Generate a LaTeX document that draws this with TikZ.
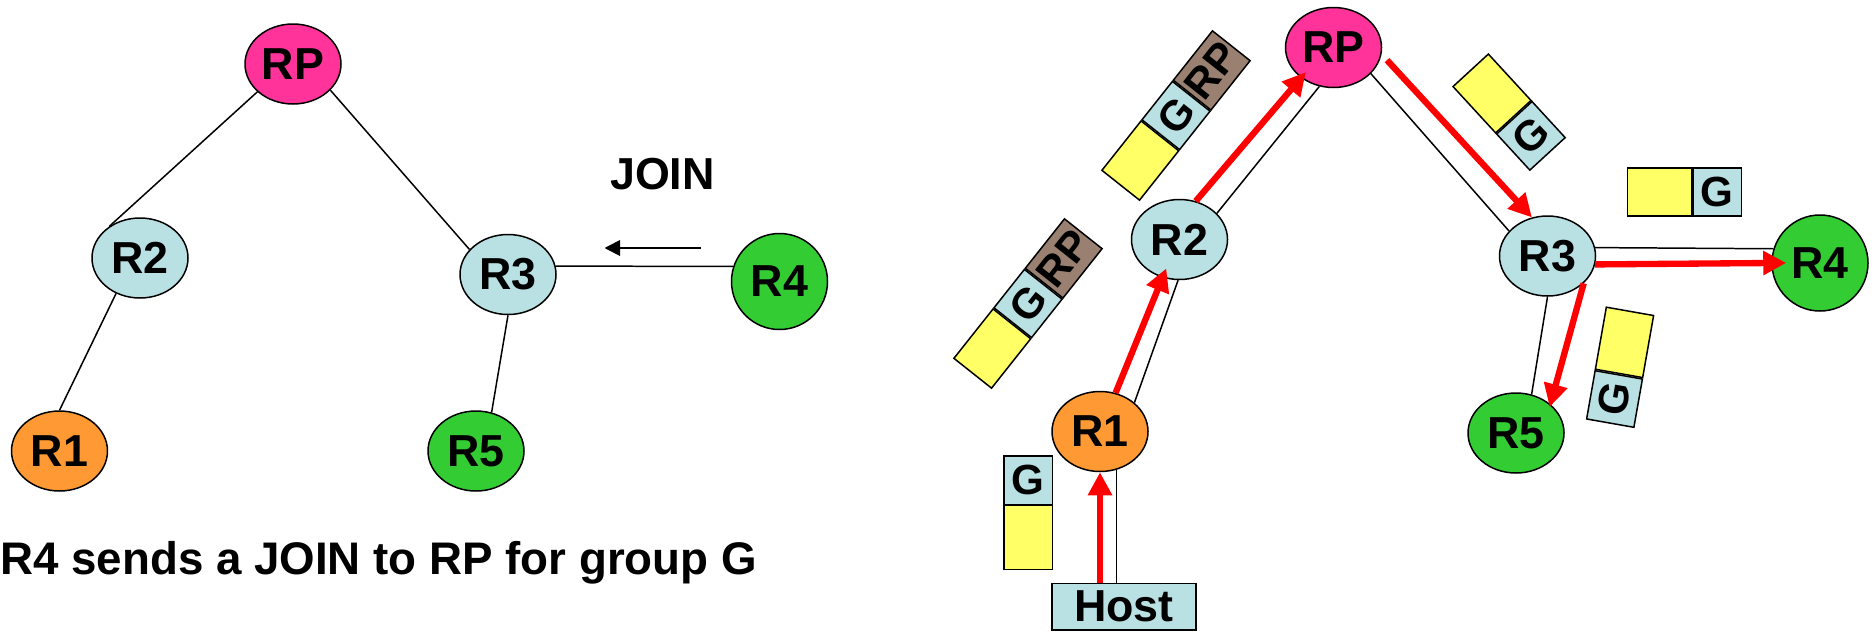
\documentclass[tikz,border=0pt]{standalone}
\usepackage{fontspec}
\setmainfont{Liberation Sans}
\usepackage{xcolor}
\usetikzlibrary{shapes, arrows.meta, positioning, calc}
\definecolor{rppink}{HTML}{FF3399}
\definecolor{rtblue}{HTML}{B9E0E3}
\definecolor{rtorange}{HTML}{FF9933}
\definecolor{rtgreen}{HTML}{33CC33}
\definecolor{pktyellow}{HTML}{FFFF66}
\definecolor{pktbrown}{HTML}{998070}
\newcommand{\bigbf}{\fontsize{25.5}{30}\selectfont\bfseries}
\newcommand{\pktbf}{\fontsize{24}{28}\selectfont\bfseries}
\newcommand{\capbf}{\fontsize{26}{31}\selectfont\bfseries}

\begin{document}
\begin{tikzpicture}[
		router/.style={ellipse, draw, line width=0.85pt, minimum width=1.92cm, minimum height=1.6cm, inner sep=0pt, font=\bigbf},
		link/.style={line width=0.85pt},
		flow/.style={draw=red, line width=3.6pt, -{Triangle[length=0.46cm, width=0.46cm]}},
		cell/.style={draw, line width=0.85pt, minimum height=0.96cm, inner sep=0pt, font=\pktbf}]
		\useasboundingbox (0,0) rectangle (37.5,-12.64);

		\node[router, fill=rppink] (RPa) at (5.86,-1.28) {RP};
		\node[router, fill=rtblue] (R2a) at (2.80,-5.16) {R2};
		\node[router, fill=rtblue] (R3a) at (10.16,-5.49) {R3};
		\node[router, fill=rtgreen, minimum height=1.92cm] (R4a) at (15.59,-5.63) {R4};
		\node[router, fill=rtorange] (R1a) at (1.19,-9.02) {R1};
		\node[router, fill=rtgreen] (R5a) at (9.52,-9.02) {R5};

		\draw[link] (RPa.218) -- (R2a.134);
		\draw[link] (RPa.-35) -- (R3a.147);
		\draw[link] (R2a.236) -- (R1a.north);
		\draw[link] (R3a.south) -- (R5a.68);
		\draw[link] (R3a.10) -- (R4a.162);

		\node[font=\bigbf] (join) at (13.25,-3.49) {JOIN};
		\coordinate (joinA) at (14.01,-4.96);
		\coordinate (joinB) at (12.09,-4.96);
		\draw[line width=1.1pt, -{Triangle[length=0.31cm, width=0.31cm]}] (joinA) -- (joinB);

		\node[anchor=west, inner sep=0pt, font=\capbf] (caption) at (0,-11.26) {R4 sends a JOIN to RP for group G};

		\node[router, fill=rppink] (RPb) at (26.67,-0.95) {RP};
		\node[router, fill=rtblue] (R2b) at (23.59,-4.79) {R2};
		\node[router, fill=rtorange] (R1b) at (22.00,-8.63) {R1};
		\node[router, fill=rtblue] (R3b) at (30.95,-5.12) {R3};
		\node[router, fill=rtgreen, minimum height=1.92cm] (R4b) at (36.40,-5.26) {R4};
		\node[router, fill=rtgreen] (R5b) at (30.32,-8.66) {R5};
		\node[draw, fill=rtblue, line width=0.85pt, minimum width=2.88cm, minimum height=0.93cm, inner sep=0pt, font=\bigbf] (host) at (22.48,-12.13) {Host};

		\draw[link] (R1b.-67) -- (R1b.-67 |- host.north);
		\draw[link] (R1b.40) -- (R2b.268);
		\draw[link] (R2b.35) -- (RPb.250);
		\draw[link] (RPb.-35) -- (R3b.147);
		\draw[link] (R3b.10) -- (R4b.163);
		\draw[link] (R3b.south) -- (R5b.68);

		\draw[flow] (host.north -| R1b) -- (R1b.south);
		\draw[flow, shorten >=-0.2cm] (R1b.68) -- (R2b.246);
		\draw[flow, shorten >=-0.15cm] (R2b.67) -- (RPb.223);
		\draw[flow, shorten <=0.16cm] (RPb.-8) -- (R3b.112);
		\draw[flow, shorten >=-0.3cm] (R3b.-10) -- (R4b.west);
		\draw[flow, shorten >=-0.06cm] (R3b.-37) -- (R5b.40);

		\begin{scope}[shift={(23.52,-2.31)}, rotate=51.6, transform shape]
			\node[cell, fill=rtblue, minimum width=0.98cm] (gUp) at (0,0) {G};
			\node[cell, fill=pktyellow, minimum width=1.26cm, left=0pt of gUp] (yUp) {};
			\node[cell, fill=pktbrown, minimum width=1.26cm, right=0pt of gUp] (rpUp) {RP};
		\end{scope}
		\begin{scope}[shift={(20.56,-6.07)}, rotate=51.6, transform shape]
			\node[cell, fill=rtblue, minimum width=0.98cm] (gLow) at (0,0) {G};
			\node[cell, fill=pktyellow, minimum width=1.26cm, left=0pt of gLow] (yLow) {};
			\node[cell, fill=pktbrown, minimum width=1.26cm, right=0pt of gLow] (rpLow) {RP};
		\end{scope}
		\begin{scope}[shift={(29.84,-1.87)}, rotate=42.6, transform shape]
			\node[cell, fill=pktyellow, minimum width=0.96cm, minimum height=1.26cm] (yMid) at (0,0) {};
			\node[cell, fill=rtblue, minimum width=0.96cm, minimum height=0.98cm, below=0pt of yMid] (gMid) {G};
		\end{scope}
		\node[cell, fill=pktyellow, minimum width=1.28cm] (yR4) at (33.19,-3.84) {};
		\node[cell, fill=rtblue, minimum width=0.97cm, right=0pt of yR4] (gR4) {G};
		\begin{scope}[shift={(32.29,-7.98)}, rotate=80, transform shape]
			\node[cell, fill=rtblue, minimum width=0.98cm] (gR5) at (0,0) {G};
			\node[cell, fill=pktyellow, minimum width=1.26cm, right=0pt of gR5] (yR5) {};
		\end{scope}
		\node[cell, fill=rtblue, minimum width=0.97cm, minimum height=0.97cm] (gR1) at (20.56,-9.60) {G};
		\node[cell, fill=pktyellow, minimum width=0.97cm, minimum height=1.27cm, below=0pt of gR1] (yR1) {};

	\end{tikzpicture}
\end{document}
